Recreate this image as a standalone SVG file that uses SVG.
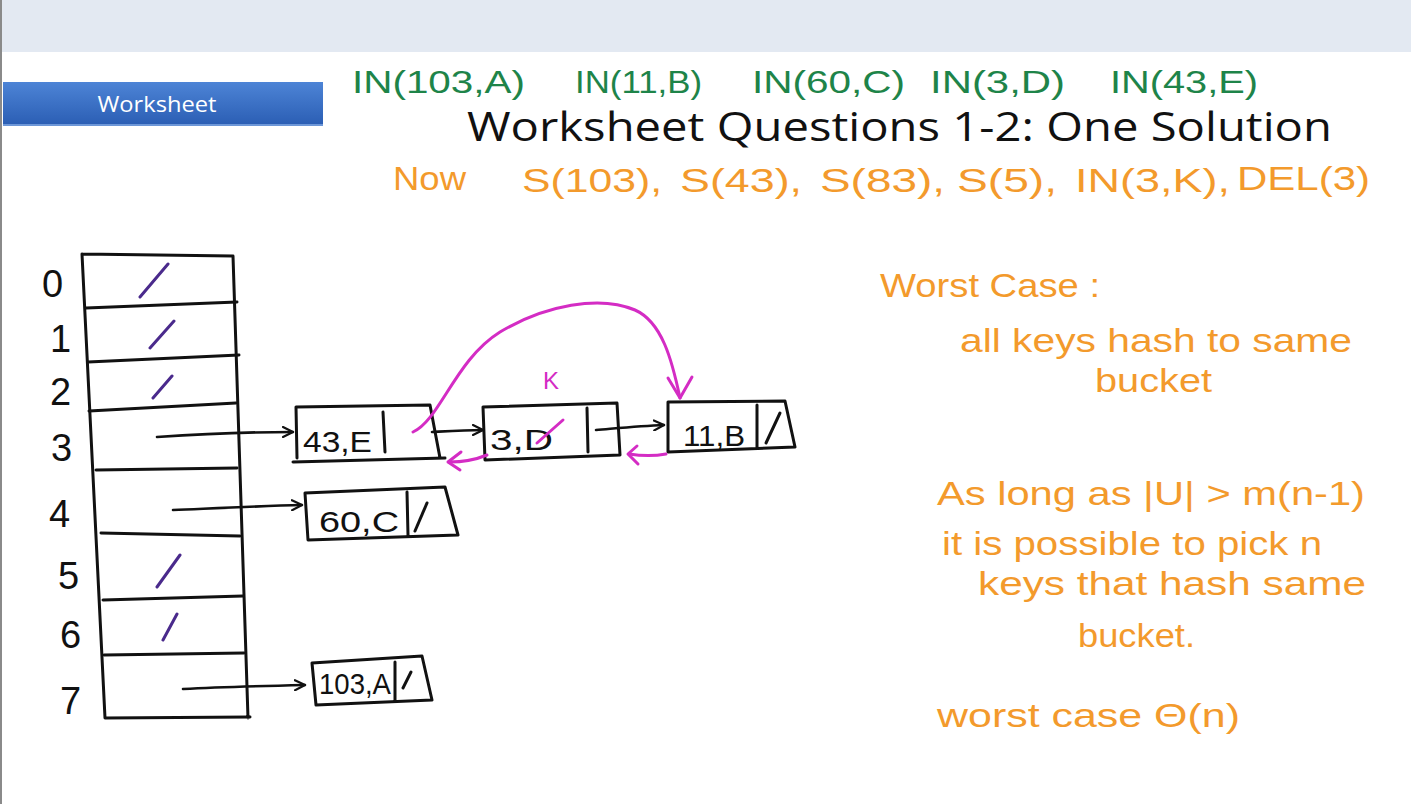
<svg xmlns="http://www.w3.org/2000/svg" width="1411" height="804" viewBox="0 0 1411 804">
  <defs>
    <linearGradient id="btn" x1="0" y1="0" x2="0" y2="1">
      <stop offset="0" stop-color="#4d84d6"/>
      <stop offset="1" stop-color="#2a5db3"/>
    </linearGradient>
    <marker id="chev" viewBox="0 0 12 12" refX="11" refY="6" markerWidth="12" markerHeight="12" markerUnits="userSpaceOnUse" orient="auto">
      <path d="M1,1 L11,6 L1,11" fill="none" stroke="#111" stroke-width="2.2" stroke-linecap="round" stroke-linejoin="round"/>
    </marker>
  </defs>
  <style>
    .ink { fill: none; stroke: #111; stroke-width: 3; stroke-linecap: round; stroke-linejoin: round; }
    .ptr { fill: none; stroke: #111; stroke-width: 2.6; stroke-linecap: round; marker-end: url(#chev); }
    .nil { fill: none; stroke: #4a2a8c; stroke-width: 3; stroke-linecap: round; }
    .mag { fill: none; stroke: #d42cc4; stroke-width: 3; stroke-linecap: round; stroke-linejoin: round; }
    .hand { font-family: "Liberation Sans", "DejaVu Sans", sans-serif; }
    .green { fill: #1e8449; font-size: 32px; }
    .orange { fill: #f39a2c; font-size: 34px; }
    .note { fill: #f39a2c; font-size: 33px; }
    .idx { fill: #111; font-size: 38px; }
    .cell { fill: #111; font-size: 30px; }
  </style>

  <!-- slide frame -->
  <rect x="0" y="0" width="1411" height="804" fill="#ffffff"/>
  <rect x="0" y="0" width="1411" height="52" fill="#e3e9f2"/>
  <rect x="0" y="0" width="2" height="804" fill="#8a8a8a"/>

  <!-- section tab -->
  <g id="tab">
    <rect x="3" y="82" width="320" height="44" fill="url(#btn)"/>
    <rect x="3" y="124" width="320" height="2" fill="#6d97d8"/>
    <text x="157" y="112" text-anchor="middle" font-family="'Open Sans', 'Liberation Sans', sans-serif" font-size="22" fill="#ffffff" textLength="119" lengthAdjust="spacingAndGlyphs">Worksheet</text>
  </g>

  <!-- title -->
  <text id="title" x="467" y="141" font-family="'Open Sans', 'Liberation Sans', sans-serif" font-size="41" fill="#111" textLength="865" lengthAdjust="spacingAndGlyphs">Worksheet Questions 1-2: One Solution</text>

  <!-- inserted operations -->
  <g id="inserts" class="hand green">
    <text x="352" y="93" textLength="173" lengthAdjust="spacingAndGlyphs">IN(103,A)</text>
    <text x="575" y="93" textLength="127" lengthAdjust="spacingAndGlyphs">IN(11,B)</text>
    <text x="752" y="93" textLength="153" lengthAdjust="spacingAndGlyphs">IN(60,C)</text>
    <text x="930" y="93" textLength="135" lengthAdjust="spacingAndGlyphs">IN(3,D)</text>
    <text x="1110" y="93" textLength="148" lengthAdjust="spacingAndGlyphs">IN(43,E)</text>
  </g>

  <!-- next operations -->
  <g id="ops" class="hand orange">
    <text x="393" y="190" textLength="73" lengthAdjust="spacingAndGlyphs">Now</text>
    <text x="522" y="192" textLength="140" lengthAdjust="spacingAndGlyphs">S(103),</text>
    <text x="680" y="192" textLength="122" lengthAdjust="spacingAndGlyphs">S(43),</text>
    <text x="820" y="192" textLength="125" lengthAdjust="spacingAndGlyphs">S(83),</text>
    <text x="957" y="192" textLength="100" lengthAdjust="spacingAndGlyphs">S(5),</text>
    <text x="1075" y="192" textLength="155" lengthAdjust="spacingAndGlyphs">IN(3,K),</text>
    <text x="1237" y="190" textLength="133" lengthAdjust="spacingAndGlyphs">DEL(3)</text>
  </g>

  <!-- hash table -->
  <g id="table">
    <path class="ink" d="M82,254 L233,256 M82,254 L105,718 M233,256 L248,718 M105,718 L250,717"/>
    <path class="ink" d="M86,308 L237,302 M88,362 L239,355 M89,411 L236,403 M96,470 L237,468 M101,533 L240,536 M103,600 L243,596 M104,655 L244,653"/>
    <g class="hand idx">
      <text x="42" y="297">0</text>
      <text x="50" y="352">1</text>
      <text x="50" y="405">2</text>
      <text x="51" y="461">3</text>
      <text x="49" y="527">4</text>
      <text x="58" y="589">5</text>
      <text x="60" y="648">6</text>
      <text x="60" y="714">7</text>
    </g>
    <path class="nil" d="M140,297 L168,264 M150,348 L174,321 M153,398 L172,376 M157,587 L180,555 M163,640 L177,614"/>
  </g>

  <!-- list nodes -->
  <g id="node-43E">
    <path class="ink" d="M296,407 L430,405 L440,458 M293,462 L445,458 M296,407 L297,458 M383,412 L385,452"/>
    <text class="hand cell" x="303" y="452" textLength="69" lengthAdjust="spacingAndGlyphs">43,E</text>
  </g>
  <g id="node-3D">
    <path class="ink" d="M483,407 L617,403 L620,455 L485,460 Z M587,408 L588,452"/>
    <text class="hand cell" x="490" y="450" textLength="63" lengthAdjust="spacingAndGlyphs">3,D</text>
    <path class="mag" d="M537,443 L563,420"/>
    <text class="hand" x="543" y="389" font-size="24" fill="#d42cc4">K</text>
  </g>
  <g id="node-11B">
    <path class="ink" d="M668,402 L785,401 L795,447 L668,452 Z M757,405 L757,448"/>
    <text class="hand cell" x="683" y="446" textLength="62" lengthAdjust="spacingAndGlyphs">11,B</text>
    <path class="ink" d="M766,443 L780,413"/>
  </g>
  <g id="node-60C">
    <path class="ink" d="M305,493 L445,487 L458,535 L308,540 Z M407,492 L408,535"/>
    <text class="hand cell" x="319" y="532" textLength="80" lengthAdjust="spacingAndGlyphs">60,C</text>
    <path class="ink" d="M415,531 L427,503"/>
  </g>
  <g id="node-103A">
    <path class="ink" d="M312,663 L422,656 L432,700 L316,705 Z M395,662 L395,700"/>
    <text class="hand cell" x="319" y="694" font-size="26" textLength="72" lengthAdjust="spacingAndGlyphs">103,A</text>
    <path class="ink" d="M403,688 L411,672"/>
  </g>

  <!-- pointers -->
  <g id="connectors">
    <path class="ptr" d="M157,437 C200,434 250,432 293,432"/>
    <path class="ptr" d="M173,510 C220,508 260,506 302,505"/>
    <path class="ptr" d="M183,689 C220,687 260,686 305,685"/>
    <path class="ptr" d="M432,432 C450,431 465,430 483,430"/>
    <path class="ptr" d="M596,430 C620,428 640,426 664,425"/>
    <!-- rewired next pointer after delete -->
    <path class="mag" d="M413,432 C440,420 455,360 500,332 C545,305 600,295 635,310 C662,322 672,360 680,398"/>
    <path class="mag" d="M668,378 L680,398 L692,377"/>
    <!-- prev pointers -->
    <path class="mag" d="M487,455 C475,460 462,462 449,462"/>
    <path class="mag" d="M461,452 L448,462 L460,470"/>
    <path class="mag" d="M666,454 C655,456 642,456 629,454"/>
    <path class="mag" d="M637,446 L628,454 L638,464"/>
  </g>

  <!-- worst case notes -->
  <g id="notes" class="hand note">
    <text x="880" y="297" textLength="220" lengthAdjust="spacingAndGlyphs">Worst Case :</text>
    <text x="960" y="352" textLength="392" lengthAdjust="spacingAndGlyphs">all keys hash to same</text>
    <text x="1095" y="392" textLength="117" lengthAdjust="spacingAndGlyphs">bucket</text>
    <text x="937" y="505" textLength="428" lengthAdjust="spacingAndGlyphs">As long as |U| &gt; m(n-1)</text>
    <text x="942" y="555" textLength="380" lengthAdjust="spacingAndGlyphs">it is possible to pick n</text>
    <text x="978" y="595" textLength="388" lengthAdjust="spacingAndGlyphs">keys that hash same</text>
    <text x="1078" y="647" textLength="117" lengthAdjust="spacingAndGlyphs">bucket.</text>
    <text x="937" y="727" textLength="303" lengthAdjust="spacingAndGlyphs">worst case Θ(n)</text>
  </g>
</svg>
